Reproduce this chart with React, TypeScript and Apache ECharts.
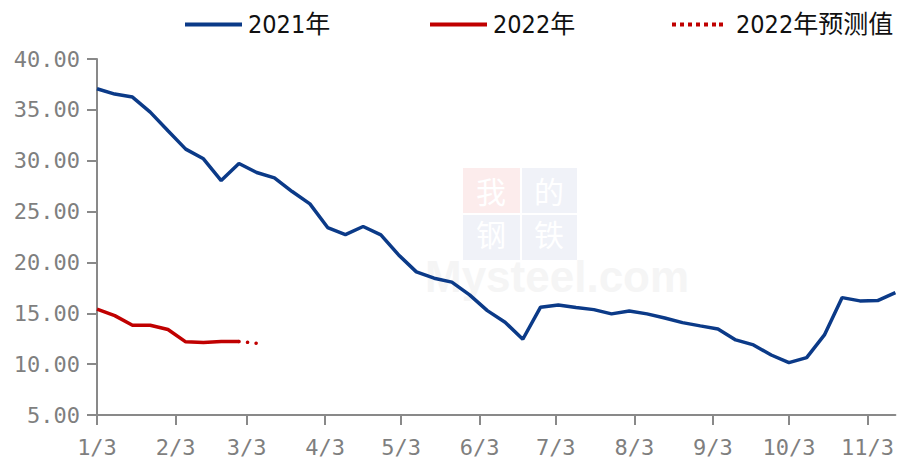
import React, { useEffect, useRef } from "react";
import * as echarts from "echarts";

const WEEKS = [
  "2021-01-03", "2021-01-10", "2021-01-17", "2021-01-24", "2021-01-31",
  "2021-02-07", "2021-02-14", "2021-02-21", "2021-02-28", "2021-03-07",
  "2021-03-14", "2021-03-21", "2021-03-28", "2021-04-04", "2021-04-11",
  "2021-04-18", "2021-04-25", "2021-05-02", "2021-05-09", "2021-05-16",
  "2021-05-23", "2021-05-30", "2021-06-06", "2021-06-13", "2021-06-20",
  "2021-06-27", "2021-07-04", "2021-07-11", "2021-07-18", "2021-07-25",
  "2021-08-01", "2021-08-08", "2021-08-15", "2021-08-22", "2021-08-29",
  "2021-09-05", "2021-09-12", "2021-09-19", "2021-09-26", "2021-10-03",
  "2021-10-10", "2021-10-17", "2021-10-24", "2021-10-31", "2021-11-07",
  "2021-11-14",
];

const S2021 = [
  37.08, 36.55, 36.26, 34.78, 32.94, 31.14, 30.19, 28.05, 29.73, 28.84,
  28.32, 26.97, 25.76, 23.43, 22.74, 23.53, 22.71, 20.74, 19.07, 18.45,
  18.06, 16.81, 15.26, 14.12, 12.45, 15.6, 15.82, 15.56, 15.36, 14.94,
  15.23, 14.94, 14.54, 14.08, 13.76, 13.46, 12.38, 11.89, 10.9, 10.15,
  10.64, 12.87, 16.54, 16.22, 16.25, 17.03,
];

const S2022 = [15.4, 14.77, 13.83, 13.83, 13.4, 12.19, 12.12, 12.22, 12.22];

const S2022_FORECAST = [null, null, null, null, null, null, null, null, 12.22, 12.06];

const TICK_DATES = [
  "2021-01-03", "2021-02-03", "2021-03-03", "2021-04-03", "2021-05-03",
  "2021-06-03", "2021-07-03", "2021-08-03", "2021-09-03", "2021-10-03",
  "2021-11-03",
];
const TICK_LABELS = ["1/3", "2/3", "3/3", "4/3", "5/3", "6/3", "7/3", "8/3", "9/3", "10/3", "11/3"];

const NAMES = ["2021年", "2022年", "2022年预测值"];

const Y_MIN = 5;
const Y_MAX = 40;
const Y_STEP = 5;

const DAY = 86400000;
const dayNum = (s: string) => {
  const [y, m, d] = s.split("-").map(Number);
  return Math.round(Date.UTC(y, m - 1, d) / DAY);
};

const DOTS_ICON =
  "path://M0,0h4v4h-4z M8,0h4v4h-4z M16,0h4v4h-4z M24,0h4v4h-4z M32,0h4v4h-4z M40,0h4v4h-4z M47,0h4v4h-4z";

export default function App() {
  const ref = useRef<HTMLDivElement>(null);

  useEffect(() => {
    if (!ref.current) return;
    const chart = echarts.init(ref.current, undefined, { renderer: "svg" });
    const tickDays = TICK_DATES.map(dayNum);
    const labelMap: Record<number, string> = {};
    tickDays.forEach((t, i) => (labelMap[t] = TICK_LABELS[i]));

    const legendText = {
      fontFamily: "'DejaVu Sans Condensed', 'Liberation Sans Narrow', 'Noto Sans CJK SC', sans-serif",
      fontSize: 25,
      color: "#111",
      padding: [0, 0, 0, 1],
    };
    const axisFont = "'DejaVu Sans Mono', 'Liberation Mono', monospace";
    const gray = "#898989";
    const cjkWm = { fill: "#ffffff", font: "30px 'Noto Sans CJK SC'", lineHeight: 32 };

    const option: any = {
      animation: false,
      backgroundColor: "#ffffff",
      grid: { left: 97, right: 0, top: 59, bottom: 46, containLabel: false },
      legend: [
        { left: 185, top: 12, padding: 0, icon: "rect", itemWidth: 57, itemHeight: 4, itemGap: 0, data: [NAMES[0]], textStyle: legendText },
        { left: 430, top: 12, padding: 0, icon: "rect", itemWidth: 57, itemHeight: 4, itemGap: 0, data: [NAMES[1]], textStyle: legendText },
        { left: 672, top: 12, padding: 0, icon: DOTS_ICON, itemWidth: 51, itemHeight: 4, itemGap: 0, data: [NAMES[2]], textStyle: { ...legendText, padding: [0, 0, 0, 8] } },
      ],
      graphic: [
        { type: "rect", z: 0, shape: { x: 463, y: 168, width: 57, height: 45 }, style: { fill: "#fcecec" } },
        { type: "rect", z: 0, shape: { x: 522, y: 168, width: 55, height: 45 }, style: { fill: "#f0f2f8" } },
        { type: "rect", z: 0, shape: { x: 463, y: 215, width: 57, height: 45 }, style: { fill: "#f0f2f8" } },
        { type: "rect", z: 0, shape: { x: 522, y: 215, width: 55, height: 45 }, style: { fill: "#f0f2f8" } },
        { type: "text", z: 0, x: 476, y: 174, style: { text: "我", ...cjkWm } },
        { type: "text", z: 0, x: 534, y: 174, style: { text: "的", ...cjkWm } },
        { type: "text", z: 0, x: 476, y: 217, style: { text: "钢", ...cjkWm } },
        { type: "text", z: 0, x: 534, y: 217, style: { text: "铁", ...cjkWm } },
        { type: "text", z: 0, x: 425, y: 260, style: { text: "Mysteel.com", fill: "#f5f5f5", font: "bold 44px 'Liberation Sans'", lineHeight: 32 } },
      ],
      xAxis: {
        type: "value",
        min: dayNum(WEEKS[0]),
        max: dayNum(WEEKS[WEEKS.length - 1]),
        splitLine: { show: false },
        axisLine: { show: true, lineStyle: { color: gray, width: 2 } },
        axisTick: { show: true, length: 10, lineStyle: { color: gray, width: 2 }, customValues: tickDays },
        axisLabel: {
          customValues: tickDays,
          margin: 21,
          fontFamily: axisFont,
          fontSize: 22,
          color: "#7f7f7f",
          formatter: (v: number) => labelMap[v] ?? "",
        },
      },
      yAxis: {
        type: "value",
        min: Y_MIN,
        max: Y_MAX,
        interval: Y_STEP,
        splitLine: { show: false },
        axisLine: { show: true, lineStyle: { color: gray, width: 2 } },
        axisTick: { show: true, length: 10, lineStyle: { color: gray, width: 2 } },
        axisLabel: {
          margin: 17,
          fontFamily: axisFont,
          fontSize: 22,
          color: "#7f7f7f",
          formatter: (v: number) => v.toFixed(2),
        },
      },
      series: [
        {
          name: NAMES[0],
          type: "line",
          symbol: "none",
          z: 3,
          data: S2021.map((v, i) => [dayNum(WEEKS[i]), v]),
          lineStyle: { color: "#0b3a88", width: 3.5 },
          itemStyle: { color: "#0b3a88" },
        },
        {
          name: NAMES[1],
          type: "line",
          symbol: "none",
          z: 4,
          data: S2022.map((v, i) => [dayNum(WEEKS[i]), v]),
          lineStyle: { color: "#c00000", width: 3.5 },
          itemStyle: { color: "#c00000" },
        },
        {
          name: NAMES[2],
          type: "line",
          symbol: "none",
          z: 3,
          connectNulls: false,
          data: S2022_FORECAST.map((v, i) => [dayNum(WEEKS[i]), v]),
          lineStyle: { color: "#c00000", width: 3.5, type: [0.1, 8.5], cap: "round" },
          itemStyle: { color: "#c00000" },
        },
      ],
    };
    chart.setOption(option);
    return () => chart.dispose();
  }, []);

  return (
    <div
      ref={ref}
      style={{ position: "fixed", left: 0, top: 0, width: 897, height: 461, background: "#fff" }}
    />
  );
}
